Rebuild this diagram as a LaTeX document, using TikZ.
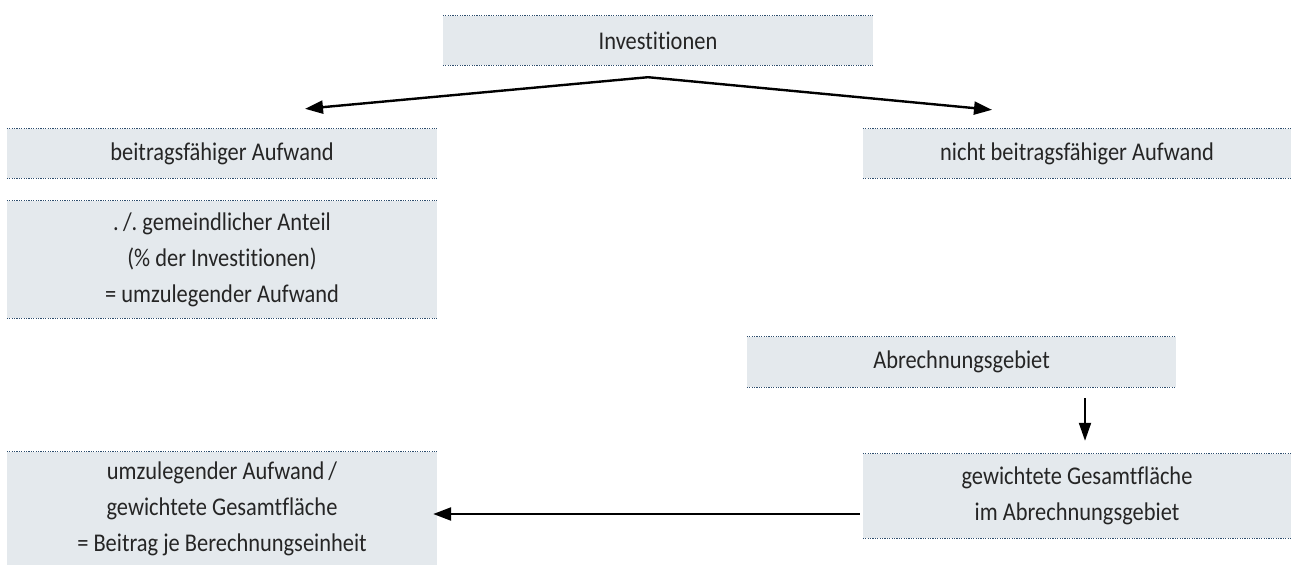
\documentclass[tikz,border=0pt]{standalone}
\usepackage{fontspec}
\setmainfont[FakeStretch=0.88,Ligatures=NoCommon]{Carlito}
\usetikzlibrary{arrows.meta}
\definecolor{boxfill}{HTML}{E4E9ED}
\definecolor{rulecol}{HTML}{2E4E6E}
\definecolor{txtcol}{HTML}{252525}
\tikzset{
  box/.style={fill=boxfill, draw=none, inner sep=0pt, align=center,
    text=txtcol, font=\fontsize{25.5}{36}\selectfont},
  rule/.style={draw=rulecol, line width=1.3pt, dash pattern=on 1.2pt off 1.2pt},
  arr/.style={draw=black, line width=2.4pt, -{Triangle[length=18pt,width=13pt]}},
  varr/.style={draw=black, line width=2pt, -{Triangle[length=18pt,width=12pt]}},
}
\newcommand{\ruleboth}[1]{%
  \draw[rule] (#1.north west) -- (#1.north east);
  \draw[rule] (#1.south west) -- (#1.south east);}
\begin{document}
\begin{tikzpicture}[x=1pt,y=-1pt]
\useasboundingbox (0,0) rectangle (1291,565);

% boxes
\node[box, minimum width=430pt, minimum height=49pt] (inv) at (658,40.5) {Investitionen};
\node[box, minimum width=430pt, minimum height=49pt] (bf) at (222,153.5) {beitragsfähiger Aufwand};
\node[box, minimum width=428pt, minimum height=49pt] (nbf) at (1077,153.5) {nicht beitragsfähiger Aufwand};
\node[box, minimum width=430pt, minimum height=117pt] (ant) at (222,259.5)
  {.\,/.\ gemeindlicher Anteil\\(\% der Investitionen)\\= umzulegender Aufwand};
\node[box, minimum width=429pt, minimum height=50pt] (abr) at (961.5,362) {Abrechnungsgebiet};
\node[box, minimum width=428pt, minimum height=84pt] (gew) at (1077,496)
  {gewichtete Gesamtfläche\\im Abrechnungsgebiet};
\node[box, minimum width=430pt, minimum height=113pt] (bei) at (222,508.5)
  {umzulegender Aufwand\kern4pt/\\gewichtete Gesamtfläche\\= Beitrag je Berechnungseinheit};

% dotted rules above and below the boxes
\ruleboth{inv}
\ruleboth{bf}
\ruleboth{nbf}
\ruleboth{ant}
\ruleboth{abr}
\ruleboth{gew}
\draw[rule] (bei.north west) -- (bei.north east);

% connectors
\coordinate (apex) at ([shift={(-10,12)}]inv.south);
\coordinate (lt) at ([shift={(83,-20)}]bf.north);
\coordinate (rt) at ([shift={(-85,-19)}]nbf.north);
\draw[arr] (apex) -- (lt);
\draw[arr] (apex) -- (rt);
\draw[varr] ([shift={(123.5,11)}]abr.south) -- ([shift={(8,-13)}]gew.north);
\draw[arr] ([shift={(-3,18)}]gew.west) -- ([shift={(-4,5.5)}]bei.east);
\end{tikzpicture}
\end{document}
